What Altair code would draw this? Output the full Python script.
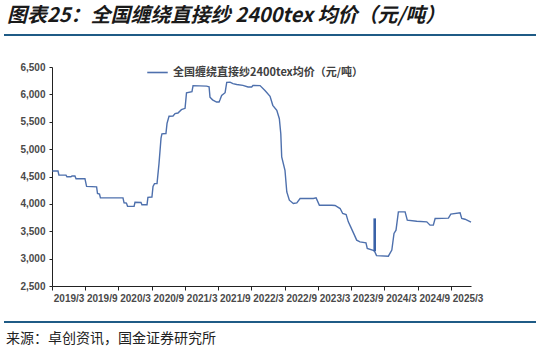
import altair as alt
import pandas as pd

# ---------------- data ----------------
dates = [
    "2018-12-17", "2019-01-17", "2019-01-22", "2019-03-02", "2019-03-07", "2019-03-29",
    "2019-04-04", "2019-04-20", "2019-04-26", "2019-06-14", "2019-06-23", "2019-08-17",
    "2019-08-22", "2019-09-02", "2019-09-07", "2020-01-09", "2020-01-15", "2020-01-28",
    "2020-02-03", "2020-03-10", "2020-03-15", "2020-04-17", "2020-04-22", "2020-05-20",
    "2020-05-25", "2020-06-16", "2020-06-22", "2020-06-30", "2020-07-14", "2020-07-25",
    "2020-08-05", "2020-08-10", "2020-09-01", "2020-09-07", "2020-09-18", "2020-10-10",
    "2020-10-21", "2020-11-06", "2020-11-25", "2020-12-15", "2020-12-23", "2021-01-22",
    "2021-01-28", "2021-04-12", "2021-04-26", "2021-05-01", "2021-05-15", "2021-06-06",
    "2021-06-20", "2021-06-25", "2021-07-04", "2021-07-23", "2021-08-01", "2021-08-19",
    "2021-09-04", "2021-09-25", "2021-10-29", "2021-11-26", "2021-12-16", "2021-12-23",
    "2022-01-31", "2022-02-27", "2022-03-27", "2022-04-11", "2022-05-03", "2022-05-17",
    "2022-05-25", "2022-05-30", "2022-06-17", "2022-06-27", "2022-07-11", "2022-08-02",
    "2022-08-21", "2022-09-08", "2022-11-20", "2022-12-05", "2022-12-23", "2023-03-01",
    "2023-03-19", "2023-04-16", "2023-04-30", "2023-05-19", "2023-05-31", "2023-06-13",
    "2023-06-28", "2023-07-16", "2023-08-03", "2023-09-05", "2023-09-12", "2023-10-15",
    "2023-10-22", "2023-11-02", "2024-01-06", "2024-01-25", "2024-02-06", "2024-02-17",
    "2024-03-01", "2024-04-07", "2024-04-19", "2024-06-10", "2024-08-04", "2024-08-22",
    "2024-09-09", "2024-09-19", "2024-12-01", "2024-12-14", "2025-02-03", "2025-02-12",
    "2025-03-02", "2025-04-04",
]
prices = [
    4600, 4600, 4525, 4525, 4495, 4495,
    4510, 4510, 4460, 4460, 4320, 4310,
    4190, 4180, 4110, 4110, 4020, 4015,
    3955, 3955, 4030, 4025, 3985, 3985,
    4120, 4125, 4320, 4370, 4370, 4740,
    5200, 5280, 5285, 5470, 5600, 5605,
    5650, 5660, 5720, 5745, 6030, 6050,
    6160, 6150, 6140, 5950, 5900, 5860,
    5860, 5900, 5980, 6030, 6220, 6222,
    6195, 6180, 6165, 6135, 6135, 6162,
    6160, 6070, 5965, 5800, 5707, 5555,
    5282, 4856, 4614, 4218, 4067, 4007,
    4019, 4098, 4098, 4110, 3976, 3976,
    3970, 3915, 3824, 3806, 3672, 3580,
    3471, 3338, 3307, 3289, 3187, 3150,
    3135, 3055, 3045, 3156, 3460, 3520,
    3854, 3854, 3702, 3683, 3672, 3611,
    3611, 3733, 3740, 3812, 3836, 3733,
    3720, 3665,
]
series_name = "全国缠绕直接纱2400tex均价（元/吨）"

spike_dates = ["2023-10-23"]
spike_low = [3135]
spike_high = [3735]

y_ticks = [2500, 3000, 3500, 4000, 4500, 5000, 5500, 6000, 6500]
x_tick_dates = [
    "2018-12-15", "2019-06-15", "2019-12-15", "2020-06-15", "2020-12-15",
    "2021-06-15", "2021-12-15", "2022-06-15", "2022-12-15", "2023-06-15",
    "2023-12-15", "2024-06-15", "2024-12-15",
]
x_tick_labels = [
    "2019/3", "2019/9", "2020/3", "2020/9", "2021/3", "2021/9", "2022/3",
    "2022/9", "2023/3", "2023/9", "2024/3", "2024/9", "2025/3",
]
domain_start = "2018-12-15"
domain_end = "2025-04-04"

title_text = "图表25：全国缠绕直接纱 2400tex 均价（元/吨）"
source_text = "来源：卓创资讯，国金证券研究所"

# ---------------- build ----------------
def to_dt(s):
    y, m, d = (int(p) for p in s.split("-"))
    return alt.DateTime(year=y, month=m, date=d)

df = pd.DataFrame({"date": pd.to_datetime(dates), "price": prices, "series": series_name})
spike_df = pd.DataFrame({"date": pd.to_datetime(spike_dates), "price": spike_low,
                         "high": spike_high})

label_array = "[" + ",".join("'%s'" % s for s in x_tick_labels) + "]"
label_expr = (label_array +
              "[(year(datum.value) - 2019) * 2 + (month(datum.value) == 5 ? 1 : 2)]")

LINE_COLOR = "#4e70ad"
FONT = "Liberation Sans"
CJK = "Noto Sans CJK SC"

x_scale = alt.Scale(domain=[to_dt(domain_start), to_dt(domain_end)])
y_scale = alt.Scale(domain=[2500, 6500], nice=False, zero=False)

x_axis = alt.Axis(
    title=None,
    values=[to_dt(s) for s in x_tick_dates],
    labelExpr=label_expr,
    labelOffset=16.6,
    labelFlush=False,
    labelOverlap=False,
    grid=False,
    tickSize=4,
    labelPadding=3,
)
y_axis = alt.Axis(title=None, values=y_ticks, grid=False,
                  labelExpr="format(datum.value, ',.0f')",
                  tickSize=3, labelPadding=4, labelOverlap=False, labelFlush=False)

line = alt.Chart(df).mark_line(strokeWidth=1.4, interpolate="linear").encode(
    x=alt.X("date:T", scale=x_scale, axis=x_axis),
    y=alt.Y("price:Q", scale=y_scale, axis=y_axis),
    color=alt.Color(
        "series:N",
        scale=alt.Scale(domain=[series_name], range=[LINE_COLOR]),
        legend=alt.Legend(
            title=None, orient="none", legendX=94, legendY=-6,
            symbolType="stroke", symbolSize=420, symbolStrokeWidth=1.6,
            labelFont=CJK, labelFontSize=11, labelFontWeight="bold",
            labelColor="#404040", labelLimit=400, labelOffset=4,
        ),
    ),
)

spike = alt.Chart(spike_df).mark_rule(strokeWidth=2.6, color="#3a62a8").encode(
    x=alt.X("date:T", scale=x_scale, axis=x_axis),
    y=alt.Y("price:Q", scale=y_scale, axis=y_axis),
    y2="high:Q",
)

one = pd.DataFrame({"t": [0]})
title = alt.Chart(one).mark_text(
    text=title_text, font=CJK, fontSize=20, fontWeight="bold", fontStyle="italic",
    align="left", baseline="middle", color="#1a1a1a",
).encode(x=alt.value(-45), y=alt.value(-51))

top_rule = alt.Chart(one).mark_rule(color="#1f5b86", strokeWidth=2).encode(
    x=alt.value(-48), x2=alt.value(484), y=alt.value(-32)
)
bottom_rule = alt.Chart(one).mark_rule(color="#1f5b86", strokeWidth=2).encode(
    x=alt.value(-48), x2=alt.value(484), y=alt.value(255)
)
source = alt.Chart(one).mark_text(
    text=source_text, font=CJK, fontSize=14, align="left", baseline="middle",
    color="#222222",
).encode(x=alt.value(-46), y=alt.value(272))

chart = alt.layer(line, spike, title, top_rule, bottom_rule, source).properties(
    width=419,
    height=219,
    padding={"left": 52, "top": 67, "right": 70, "bottom": 67},
    autosize=alt.AutoSizeParams(type="none"),
    background="white",
).configure_view(stroke=None).configure_axis(
    domainColor="#222222", tickColor="#222222",
    labelFont=FONT, labelFontSize=10, labelFontWeight="bold", labelColor="#4a4a4a",
)

chart.save("out.html", embed_options={"renderer": "svg", "actions": False})
